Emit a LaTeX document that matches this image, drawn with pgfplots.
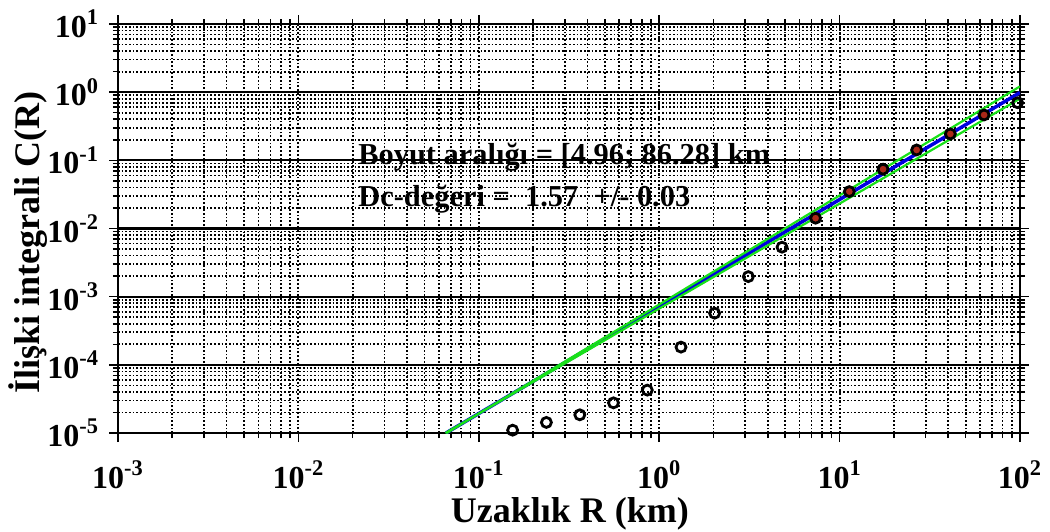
\documentclass[border=0pt]{standalone}
\usepackage{fontspec}
\setmainfont{Liberation Serif}
\usepackage{pgfplots}
\pgfplotsset{compat=1.18}

\definecolor{fitblue}{RGB}{0,0,225}
\definecolor{errgreen}{RGB}{25,225,25}
\definecolor{fitred}{RGB}{170,40,25}

\begin{document}
\begin{tikzpicture}
\begin{axis}[
  scale only axis,
  width=451bp, height=204.5bp,
  xmode=log, ymode=log,
  xmin=1e-3, xmax=1e2, ymin=1e-5, ymax=1e1,
  xtick={1e-3,1e-2,1e-1,1,1e1,1e2},
  xticklabels={10\textsuperscript{-3},10\textsuperscript{-2},10\textsuperscript{-1},
               10\textsuperscript{0},10\textsuperscript{1},10\textsuperscript{2}},
  ytick={1e-5,1e-4,1e-3,1e-2,1e-1,1,1e1},
  yticklabels={10\textsuperscript{-5},10\textsuperscript{-4},10\textsuperscript{-3},
               10\textsuperscript{-2},10\textsuperscript{-1},10\textsuperscript{0},
               10\textsuperscript{1}},
  minor xtick={2e-3,3e-3,4e-3,5e-3,6e-3,7e-3,8e-3,9e-3,
               2e-2,3e-2,4e-2,5e-2,6e-2,7e-2,8e-2,9e-2,
               0.2,0.3,0.4,0.5,0.6,0.7,0.8,0.9,
               2,3,4,5,6,7,8,9,
               20,30,40,50,60,70,80,90},
  minor ytick={2e-5,3e-5,4e-5,5e-5,6e-5,7e-5,8e-5,9e-5,
               2e-4,3e-4,4e-4,5e-4,6e-4,7e-4,8e-4,9e-4,
               2e-3,3e-3,4e-3,5e-3,6e-3,7e-3,8e-3,9e-3,
               2e-2,3e-2,4e-2,5e-2,6e-2,7e-2,8e-2,9e-2,
               0.2,0.3,0.4,0.5,0.6,0.7,0.8,0.9,
               2,3,4,5,6,7,8,9},
  grid=both,
  minor grid style={black, line width=0.85bp, dash pattern=on 0.85bp off 1bp},
  major x grid style={black, line width=0.9bp, dash pattern=on 0.9bp off 1bp},
  major y grid style={black, line width=1.1bp, solid},
  tick align=outside,
  major tick length=4.5bp,
  minor tick length=2.5bp,
  every tick/.style={black, line width=0.8bp},
  axis line style={black, line width=1.2bp},
  tick label style={font=\fontsize{16bp}{19bp}\selectfont\bfseries},
  xticklabel style={yshift=-6bp},
  yticklabel style={xshift=-1.5bp},
  label style={font=\fontsize{18bp}{21bp}\selectfont\bfseries},
  xlabel={Uzaklık R (km)},
  ylabel={İlişki integrali C(R)},
  xlabel style={at={(axis description cs:0.501,-0.22)}, anchor=base},
  ylabel style={at={(axis description cs:-0.0998,0.466)}, anchor=center},
  clip=true,
]
% fitted points inside the scaling range
\addplot[only marks, mark=*, mark size=2.2bp, fitred] coordinates {
  (7.36,0.01416) (11.32,0.0348) (17.42,0.0741)
  (26.73,0.142) (41.11,0.244) (63.24,0.463)
};
% correlation integral C(R)
\addplot[only marks, mark=o, mark size=2.5bp, mark options={black, line width=1.4bp}] coordinates {
  (0.154,1.10e-5) (0.237,1.43e-5) (0.363,1.85e-5) (0.558,2.77e-5)
  (0.859,4.26e-5) (1.321,1.82e-4) (2.028,5.73e-4) (3.119,1.97e-3)
  (4.797,5.32e-3) (7.36,0.01416) (11.32,0.0348) (17.42,0.0741)
  (26.73,0.142) (41.11,0.244) (63.24,0.463) (97.0,0.70)
};
% power-law fit, slope 1.57
\addplot[fitblue, line width=1.75bp] coordinates {(0.0658,1e-5) (100,0.989)};
% slope 1.57 +/- 0.03
\addplot[errgreen, line width=1.1bp] coordinates {(0.0664,1e-5) (100,1.216)};
\addplot[errgreen, line width=1.1bp] coordinates {(0.0653,1e-5) (100,0.804)};

\node[anchor=base west, inner sep=0pt, font=\fontsize{15.2bp}{18bp}\selectfont\bfseries]
  at (axis cs:0.0214,0.0857) {Boyut aralığı = [4.96; 86.28] km};
\node[anchor=base west, inner sep=0pt, font=\fontsize{15.2bp}{18bp}\selectfont\bfseries]
  at (axis cs:0.0214,0.0207) {Dc-değeri =\ \ 1.57\ \ +/- 0.03};

\coordinate (bl) at (rel axis cs:0,0);
\coordinate (tr) at (rel axis cs:1,1);
\end{axis}
\pgfresetboundingbox
\path ([shift={(-59bp,-49.5bp)}]bl) rectangle ([shift={(15bp,12bp)}]tr);
\end{tikzpicture}
\end{document}
